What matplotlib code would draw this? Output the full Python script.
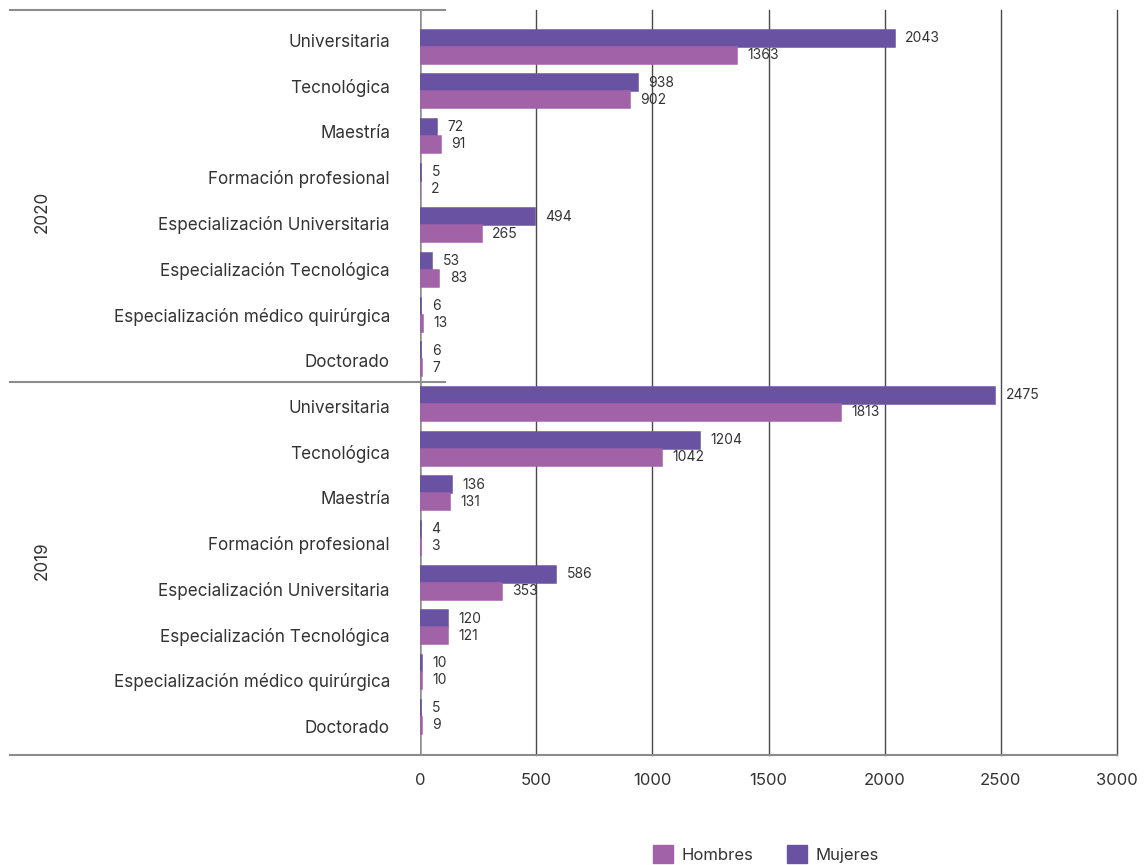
import matplotlib
matplotlib.use("Agg")
import matplotlib.pyplot as plt
import numpy as np
from matplotlib.lines import Line2D
from matplotlib.patches import Patch

plt.rcParams["font.family"] = ["Inter", "DejaVu Sans"]

years = ["2020", "2019"]
levels = ["Universitaria", "Tecnológica", "Maestría", "Formación profesional",
          "Especialización Universitaria", "Especialización Tecnológica",
          "Especialización médico quirúrgica", "Doctorado"]
mujeres_2020 = [2043, 938, 72, 5, 494, 53, 6, 6]
hombres_2020 = [1363, 902, 91, 2, 265, 83, 13, 7]
mujeres_2019 = [2475, 1204, 136, 4, 586, 120, 10, 5]
hombres_2019 = [1813, 1042, 131, 3, 353, 121, 10, 9]

C_MUJ = "#6a52a3"
C_HOM = "#a262a8"
GRID = "#4a4a4a"
SEP = "#8c8c8c"
TXT = "#333333"

mujeres = mujeres_2020 + mujeres_2019
hombres = hombres_2020 + hombres_2019
n = len(mujeres)
y = np.arange(n)
h = 0.38

fig = plt.figure(figsize=(11.48, 8.65), dpi=100)
ax = fig.add_axes([420 / 1148, 1 - 755 / 865, 697 / 1148, 745 / 865])

# thin edge keeps the tiny bars visible, as in the original
ax.barh(y - h / 2, mujeres, height=h, color=C_MUJ, edgecolor=C_MUJ,
        lw=1.1, zorder=3)
ax.barh(y + h / 2, hombres, height=h, color=C_HOM, edgecolor=C_HOM,
        lw=1.1, zorder=3)
for yi, v in zip(y - h / 2, mujeres):
    ax.annotate(str(v), (v, yi), xytext=(7.5, 0), textcoords="offset points",
                va="center", ha="left", fontsize=10, color=TXT)
for yi, v in zip(y + h / 2, hombres):
    ax.annotate(str(v), (v, yi), xytext=(7.5, 0), textcoords="offset points",
                va="center", ha="left", fontsize=10, color=TXT)

ax.set_xlim(0, 3000)
ax.set_ylim(15.86, -0.82)
ax.set_xticks(np.arange(0, 3001, 500))
ax.tick_params(axis="x", length=0, pad=13, labelsize=12, labelcolor=TXT)
ax.set_yticks([])
for s in ax.spines.values():
    s.set_visible(False)
for xv in np.arange(500, 3001, 500):
    ax.axvline(xv, color=GRID, lw=1, zorder=1, clip_on=False)
ax.axvline(0, color=SEP, lw=1.8, zorder=2)

# category labels (spaced slightly wider than the bars)
for k, lab in enumerate(levels * 2):
    ax.text(-30 / 697, k * 1.024 - 0.1, lab, transform=ax.get_yaxis_transform(),
            ha="right", va="center", fontsize=12.3, color=TXT)

# group labels and separators
for g, yr in enumerate(years):
    ax.text(-0.542, 3.5 + 8 * g + (0.2 if g == 0 else 0), yr,
            transform=ax.get_yaxis_transform(), rotation=90,
            ha="center", va="center", fontsize=12.3, color=TXT)
for yl in (-0.82, 7.5):
    ax.add_line(Line2D([-410 / 697, 25 / 697], [yl, yl], color=SEP, lw=1.5,
                       transform=ax.get_yaxis_transform(), clip_on=False))
ax.add_line(Line2D([-410 / 697, 1], [15.86, 15.86], color=SEP, lw=1.5,
                   transform=ax.get_yaxis_transform(), clip_on=False))

handles = [Patch(color=C_HOM, label="Hombres"), Patch(color=C_MUJ, label="Mujeres")]
fig.legend(handles=handles, loc="center", ncol=2, frameon=False,
           bbox_to_anchor=(766 / 1148, 1 - 854 / 865), fontsize=12,
           handlelength=1.2, handleheight=1.2, columnspacing=2.0,
           handletextpad=0.5, labelcolor=TXT)

fig.savefig("out.png", dpi=100)
